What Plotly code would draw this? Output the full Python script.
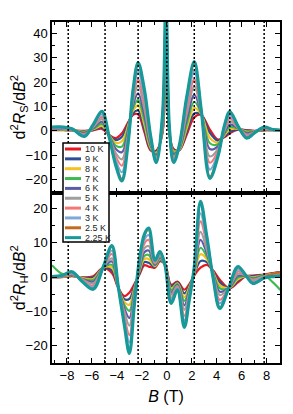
import plotly.graph_objects as go
from plotly.subplots import make_subplots

# ---------------- data ----------------
temps = ["10 K", "9 K", "8 K", "7 K", "6 K", "5 K", "4 K", "3 K", "2.5 K", "2.25 K"]
colors = ["#e8161e", "#2d4e95", "#f7bf1f", "#3dba4e", "#5b5ca8",
          "#9e9e9e", "#f47676", "#7ea7da", "#c56a1c", "#17999a"]

b_top = [-9.2, -8.3, -7.6, -6.6, -5.9, -5.2, -4.6, -4.1, -3.6, -3.1, -2.7, -2.3, -1.8,
         -1.3, -0.85, -0.35, -0.07, 0.2, 0.55, 1.0, 1.6, 2.2, 2.75, 3.45, 4.1, 4.6,
         5.05, 5.7, 6.4, 7.0, 7.8, 8.5, 9.1]
b_bot = [-9.2, -8.4, -7.6, -6.8, -5.9, -5.1, -4.4, -3.9, -3.4, -3.0, -2.6, -2.2, -1.8,
         -1.45, -0.95, -0.55, -0.15, 0.35, 0.85, 1.4, 1.8, 2.2, 2.7, 3.2, 3.7, 4.25,
         5.0, 5.7, 6.3, 6.9, 7.8, 8.5, 9.1]

# d2Rs/dB2
rs_10K = [0.3, 0.3, 0.2, 0, 0.2, 0.8, -1.8, -3, -1, 3.5, 6.5, 6.8, -0.5, -8, -8.2, -1, 55, -1, -7.5, -8, -1.5, 5.5, 6.5, 0.5, -3.6, -2.7, -1, 0.5, 0.3, 0, 0.2, 0.3, 0.3]
rs_9K = [0.4, 0.4, 0.2, -0.2, 0.4, 1.3, -1.9, -3.8, -2.4, 2.9, 7.2, 8.3, 0.7, -7.6, -8.5, -0.5, 55, -0.8, -7.9, -7.9, -0.4, 7.1, 6.7, -0.9, -4.1, -2.4, -0.4, 0.6, 0.1, -0.1, 0.3, 0.3, 0.3]
rs_8K = [0.5, 0.5, 0.3, -0.4, 0.6, 2.0, -2.0, -4.9, -4.3, 2.1, 8.3, 10.4, 2.5, -7.0, -9.0, 0.2, 55, -0.5, -8.4, -7.7, 1.1, 9.4, 6.9, -2.9, -4.8, -1.9, 0.5, 0.8, -0.3, -0.2, 0.4, 0.3, 0.3]
rs_7K = [0.6, 0.6, 0.4, -0.6, 0.8, 2.8, -2.1, -6.1, -6.5, 1.1, 9.4, 12.7, 4.4, -6.3, -9.5, 1.0, 55, -0.2, -9.0, -7.4, 2.8, 11.9, 7.2, -5.1, -5.5, -1.4, 1.5, 0.9, -0.6, -0.3, 0.6, 0.4, 0.3]
rs_6K = [0.8, 0.8, 0.4, -0.9, 1.1, 3.7, -2.3, -7.4, -8.8, 0.1, 10.7, 15.3, 6.5, -5.6, -10.1, 1.8, 55, 0.2, -9.7, -7.2, 4.7, 14.7, 7.5, -7.5, -6.4, -0.9, 2.6, 1.1, -1.0, -0.4, 0.7, 0.4, 0.3]
rs_5K = [1.0, 1.0, 0.5, -1.3, 1.5, 4.8, -2.5, -9.1, -11.7, -1.2, 12.3, 18.5, 9.1, -4.7, -10.8, 2.9, 55, 0.7, -10.5, -6.9, 7.0, 18.1, 7.9, -10.5, -7.4, -0.2, 3.9, 1.3, -1.5, -0.6, 0.9, 0.4, 0.3]
rs_4K = [1.1, 1.1, 0.6, -1.6, 1.8, 5.7, -2.6, -10.5, -14.3, -2.3, 13.6, 21.2, 11.4, -3.9, -11.5, 3.8, 55, 1.0, -11.2, -6.6, 9.0, 21.1, 8.2, -13.1, -8.3, 0.4, 5.1, 1.5, -1.9, -0.7, 1.1, 0.4, 0.3]
rs_3K = [1.3, 1.3, 0.7, -1.9, 2.1, 6.7, -2.8, -12.0, -17.0, -3.5, 15.1, 24.2, 13.9, -3.1, -12.1, 4.7, 55, 1.5, -12.0, -6.4, 11.2, 24.3, 8.6, -15.9, -9.3, 1.0, 6.3, 1.7, -2.4, -0.8, 1.3, 0.5, 0.3]
rs_2p5K = [1.5, 1.5, 0.8, -2.2, 2.4, 7.7, -2.9, -13.6, -19.7, -4.7, 16.6, 27.2, 16.3, -2.2, -12.8, 5.7, 55, 1.9, -12.8, -6.1, 13.4, 27.5, 8.9, -18.7, -10.2, 1.6, 7.5, 1.9, -2.9, -1.0, 1.4, 0.5, 0.3]
rs_2p25K = [1.5, 1.5, 0.8, -2.3, 2.5, 8.0, -3.0, -14, -20.5, -5, 17, 28, 17, -2, -13, 6, 55, 2, -13, -6, 14, 28.4, 9.0, -19.5, -10.5, 1.8, 7.9, 2.0, -3, -1, 1.5, 0.5, 0.3]

# d2RH/dB2
rh_10K = [0, 0, 0.3, 0, 0.3, 2.7, 1.2, -3, -5.5, -4.5, -2, 0.7, 3.5, 3.1, 2.8, 4.7, 3.8, -2.2, -1.3, -3.6, -2.0, 0.5, 2.8, 3.6, 2.0, -0.7, -3.2, -1.5, 0.2, 0.5, 0.8, 1.2, 1.5]
rh_9K = [0, 0.1, 0.4, -0.1, -0.1, 2.7, 2.0, -3, -6.4, -6.3, -2.6, 1.1, 4.4, 4.2, 3.0, 5.0, 3.8, -2.7, -1.5, -4.7, -2.5, 0.8, 4.7, 4.4, 1.8, -1.5, -3.2, -1.0, 0.3, 0.3, 0.7, 1.1, 1.4]
rh_8K = [0, 0.1, 0.6, -0.2, -0.5, 2.8, 2.8, -2.9, -7.2, -8.0, -3.2, 1.6, 5.3, 5.3, 3.2, 5.3, 3.8, -3.3, -1.8, -5.8, -2.9, 1.0, 6.7, 5.3, 1.6, -2.4, -3.1, -0.6, 0.3, 0.0, 0.6, 1.0, 1.3]
rh_7K = [3.5, 1.0, 0.7, -0.4, -0.8, 2.8, 3.6, -2.9, -8.1, -9.8, -3.8, 2.0, 6.2, 6.5, 3.5, 5.5, 3.7, -3.8, -2.0, -6.9, -3.4, 1.3, 8.6, 6.1, 1.4, -3.2, -3.1, -0.1, 0.4, -0.2, 0.5, -1.5, -3.7]
rh_6K = [0.1, 0.2, 0.8, -0.5, -1.3, 2.8, 4.6, -2.8, -9.1, -11.9, -4.5, 2.5, 7.3, 7.8, 3.7, 5.9, 3.7, -4.5, -2.3, -8.2, -3.9, 1.6, 10.9, 7.1, 1.2, -4.2, -3.0, 0.4, 0.4, -0.5, 0.4, 0.8, 1.0]
rh_5K = [0.1, 0.3, 1.0, -0.6, -1.8, 2.9, 5.5, -2.7, -10.1, -14.1, -5.2, 3.0, 8.4, 9.1, 4.0, 6.2, 3.7, -5.1, -2.6, -9.5, -4.5, 1.9, 13.2, 8.1, 0.9, -5.2, -2.9, 1.0, 0.5, -0.7, 0.3, 0.7, 0.9]
rh_4K = [0.1, 0.4, 1.2, -0.8, -2.4, 2.9, 6.8, -2.7, -11.5, -16.9, -6.2, 3.7, 9.8, 10.9, 4.3, 6.7, 3.7, -6.0, -3.0, -11.3, -5.2, 2.3, 16.3, 9.5, 0.6, -6.6, -2.9, 1.7, 0.6, -1.1, 0.1, 0.5, 0.7]
rh_3K = [0.2, 0.4, 1.4, -1.0, -2.8, 2.9, 7.8, -2.6, -12.5, -19.0, -6.9, 4.2, 10.9, 12.3, 4.6, 7.0, 3.6, -6.6, -3.3, -12.6, -5.8, 2.6, 18.6, 10.5, 0.4, -7.6, -2.8, 2.3, 0.6, -1.4, 0.0, 0.4, 0.5]
rh_2p5K = [0.2, 0.5, 1.5, -1.2, -3.3, 3.0, 8.9, -2.5, -13.7, -21.5, -7.8, 4.8, 12.1, 13.9, 4.9, 7.4, 3.6, -7.4, -3.6, -14.2, -6.4, 2.9, 21.3, 11.7, 0.1, -8.8, -2.7, 2.9, 0.7, -1.7, -0.2, 1.0, 1.4]
rh_2p25K = [0.2, 0.5, 1.6, -1.2, -3.5, 3.0, 9.2, -2.5, -14, -22.2, -8, 5, 12.5, 14.3, 5, 7.5, 3.6, -7.6, -3.7, -14.6, -6.6, 3, 22.1, 12, 0, -9.1, -2.7, 3.1, 0.7, -1.8, -0.2, 0.2, 0.3]

rs_series = [rs_10K, rs_9K, rs_8K, rs_7K, rs_6K, rs_5K, rs_4K, rs_3K, rs_2p5K, rs_2p25K]
rh_series = [rh_10K, rh_9K, rh_8K, rh_7K, rh_6K, rh_5K, rh_4K, rh_3K, rh_2p5K, rh_2p25K]

dotted_B = [-7.9, -4.95, -2.3, 0, 2.2, 5.05, 7.8]
x_ticks = [-8, -6, -4, -2, 0, 2, 4, 6, 8]
top_ticks = [-20, -10, 0, 10, 20, 30, 40]
bot_ticks = [-20, -10, 0, 10, 20]

# ---------------- figure ----------------
# the page body adds an 8 px offset, so the figure is sized to fit the window
OFF = 8
W, H = 293 - OFF, 414 - OFF
ML, MR, MT, MB = 52 - OFF, 13, 22 - OFF, 51
PW, PH = W - ML - MR, H - MT - MB

def px_x(p):
    # page pixel -> paper coordinate
    return (p - OFF - ML) / PW

def px_y(p):
    return (H - MB - (p - OFF)) / PH

fig = make_subplots(rows=2, cols=1, shared_xaxes=True, vertical_spacing=0)

for name, col, ys, yh in zip(temps, colors, rs_series, rh_series):
    w = 3.2 if name == "2.25 K" else 2.2
    fig.add_trace(go.Scatter(x=b_top, y=ys, mode="lines", name=name, showlegend=False,
                             line=dict(color=col, width=w, shape="spline", smoothing=1.0)),
                  row=1, col=1)
    fig.add_trace(go.Scatter(x=b_bot, y=yh, mode="lines", name=name, showlegend=False,
                             line=dict(color=col, width=w, shape="spline", smoothing=1.0)),
                  row=2, col=1)

FONT = "Arial, Liberation Sans, sans-serif"
common = dict(showline=True, linecolor="black", linewidth=1.5, mirror="allticks",
              ticks="inside", ticklen=5, tickwidth=1.3, tickcolor="black",
              showgrid=False, zeroline=False,
              tickfont=dict(family=FONT, size=13, color="black"),
              minor=dict(ticks="inside", ticklen=3, tickwidth=1.1, tickcolor="black", showgrid=False))

fig.update_xaxes(range=[-9.2, 9.07], tickvals=x_ticks, minor_dtick=1, **common)
fig.update_xaxes(showticklabels=False, row=1, col=1)
fig.update_xaxes(title=dict(text="<i>B</i> (T)", font=dict(family=FONT, size=16, color="black"),
                            standoff=8), row=2, col=1)
fig.update_yaxes(**common)
fig.update_yaxes(range=[-25.3, 44.6], tickvals=top_ticks, minor_dtick=5,
                 title=dict(text="d<sup>2</sup><i>R</i><sub>S</sub>/d<i>B</i><sup>2</sup>",
                            font=dict(family=FONT, size=16, color="black"), standoff=4),
                 row=1, col=1)
fig.update_yaxes(range=[-25, 24.7], tickvals=bot_ticks, minor_dtick=5,
                 title=dict(text="d<sup>2</sup><i>R</i><sub>H</sub>/d<i>B</i><sup>2</sup>",
                            font=dict(family=FONT, size=16, color="black"), standoff=4),
                 row=2, col=1)

shapes = []
for b in dotted_B:
    shapes.append(dict(type="line", xref="x", yref="paper", x0=b, x1=b, y0=0, y1=1,
                       line=dict(color="black", width=1.5, dash="2px,2px"), layer="above"))

# compact legend box drawn in the upper-left part
shapes.append(dict(type="rect", xref="paper", yref="paper",
                   x0=px_x(63), x1=px_x(109), y0=px_y(242), y1=px_y(143),
                   fillcolor="white", line=dict(color="black", width=1.5), layer="above"))
annotations = []
for i, (name, col) in enumerate(zip(temps, colors)):
    yy = px_y(149 + 9.85 * i)
    shapes.append(dict(type="line", xref="paper", yref="paper", x0=px_x(65), x1=px_x(81),
                       y0=yy, y1=yy, line=dict(color=col, width=3), layer="above"))
    annotations.append(dict(xref="paper", yref="paper", x=px_x(83), y=yy, text=name,
                            showarrow=False, xanchor="left", yanchor="middle",
                            font=dict(family=FONT, size=9, color="#222")))

fig.update_layout(width=W, height=H, margin=dict(l=ML, r=MR, t=MT, b=MB, autoexpand=False),
                  plot_bgcolor="white", paper_bgcolor="white", shapes=shapes,
                  annotations=annotations, showlegend=False,
                  font=dict(family=FONT, color="black"))

fig.write_html("out.html")
